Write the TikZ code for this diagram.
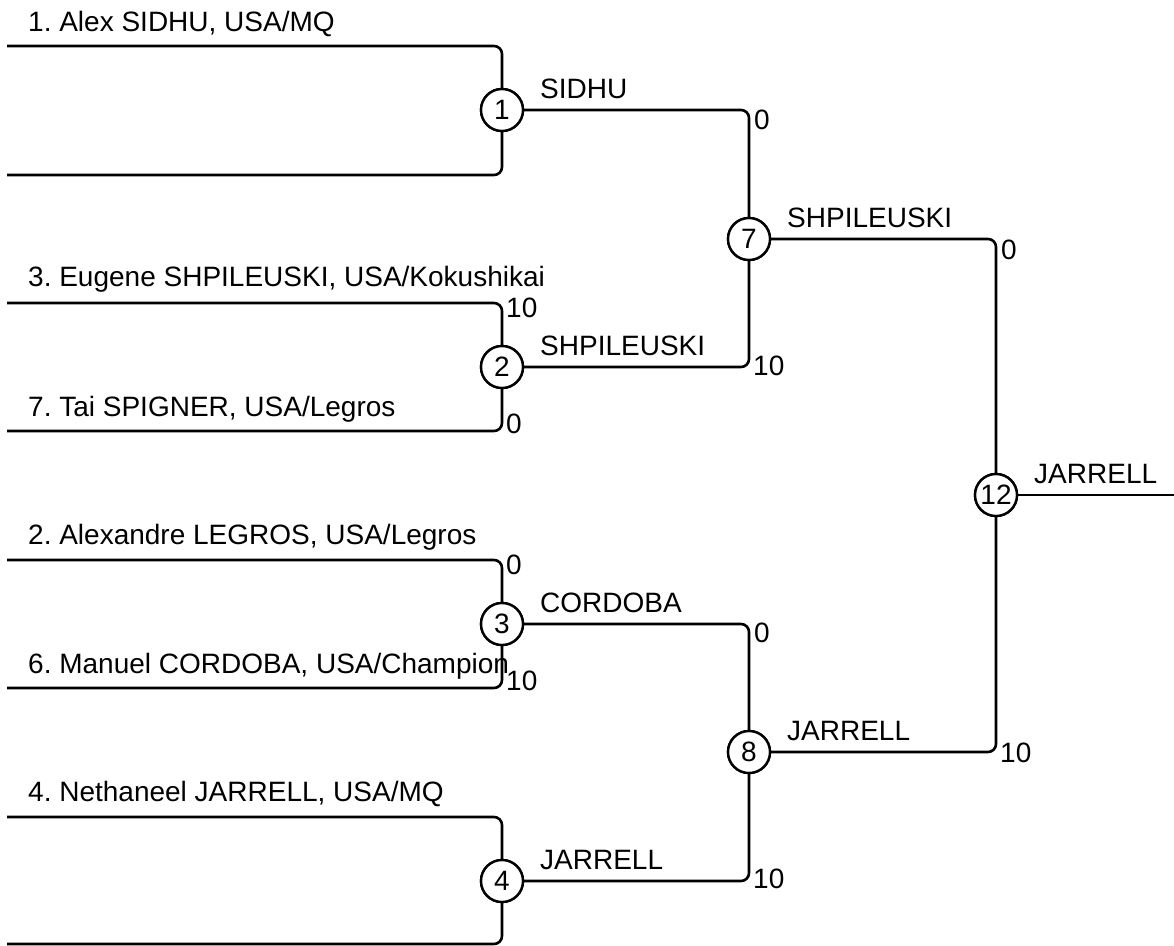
\documentclass[tikz,border=0pt]{standalone}
\usepackage{fontspec}
\setmainfont{Liberation Sans}
\frenchspacing
\begin{document}
\begin{tikzpicture}[x=1pt,y=-1pt,
  every node/.style={font=\fontsize{28}{34}\selectfont},
  link/.style={line width=2.6pt,rounded corners=8pt},
  matchnode/.style={circle,draw,line width=2.4pt,minimum size=42pt,inner sep=0pt,fill=white},
  txt/.style={inner sep=0pt,anchor=base west},
  scoretop/.style={inner sep=0pt,anchor=north west},
  scorebot/.style={inner sep=0pt,anchor=base west}]
\useasboundingbox (0,0) rectangle (1174,945);

% match nodes
\node[matchnode] (m1) at (502,110) {1};
\node[matchnode] (m2) at (502,367) {2};
\node[matchnode] (m3) at (502,624) {3};
\node[matchnode] (m4) at (502,881) {4};
\node[matchnode] (m7) at (749,239) {7};
\node[matchnode] (m8) at (749,752) {8};
\node[matchnode] (m12) at (996,495) {12};

% entry points
\coordinate (e1a) at (7,46);   \coordinate (e1b) at (7,175);
\coordinate (e2a) at (7,303);  \coordinate (e2b) at (7,431);
\coordinate (e3a) at (7,560);  \coordinate (e3b) at (7,688);
\coordinate (e4a) at (7,817);  \coordinate (e4b) at (7,944);
\coordinate (out) at (1174,495);

% round 1 brackets
\draw[link] (e1a) -| (m1);  \draw[link] (e1b) -| (m1);
\draw[link] (e2a) -| (m2);  \draw[link] (e2b) -| (m2);
\draw[link] (e3a) -| (m3);  \draw[link] (e3b) -| (m3);
\draw[link] (e4a) -| (m4);  \draw[link] (e4b) -| (m4);

% later rounds
\draw[link] (m1) -| (m7);  \draw[link] (m2) -| (m7);
\draw[link] (m3) -| (m8);  \draw[link] (m4) -| (m8);
\draw[link] (m7) -| (m12); \draw[link] (m8) -| (m12);
\draw[link] (m12) -- (out);

% redraw circles on top
\node[matchnode] at (m1) {1};
\node[matchnode] at (m2) {2};
\node[matchnode] at (m3) {3};
\node[matchnode] at (m4) {4};
\node[matchnode] at (m7) {7};
\node[matchnode] at (m8) {8};
\node[matchnode] at (m12) {12};

% player names
\node[txt] (p1) at (28,31) {1. Alex SIDHU, USA/MQ};
\node[txt] (p3) at (28,286) {3. Eugene SHPILEUSKI, USA/Kokushikai};
\node[txt] (p7) at (28,416) {7. Tai SPIGNER, USA/Legros};
\node[txt] (p2) at (28,544) {2. Alexandre LEGROS, USA/Legros};
\node[txt] (p6) at (28,673) {6. Manuel CORDOBA, USA/Champion};
\node[txt] (p4) at (28,801) {4. Nethaneel JARRELL, USA/MQ};

% winners
\node[txt] (w1) at (540,98) {SIDHU};
\node[txt] (w2) at (540,355) {SHPILEUSKI};
\node[txt] (w3) at (540,612) {CORDOBA};
\node[txt] (w4) at (540,869) {JARRELL};
\node[txt] (w7) at (787,227) {SHPILEUSKI};
\node[txt] (w8) at (787,740) {JARRELL};
\node[txt] (w12) at (1034,483) {JARRELL};

% scores
\node[scoretop] (s2a) at (506,298) {10};
\node[scorebot] (s2b) at (506,433) {0};
\node[scoretop] (s3a) at (506,555) {0};
\node[scorebot] (s3b) at (506,690) {10};
\node[scoretop] (s7a) at (754,110) {0};
\node[scorebot] (s7b) at (753,375) {10};
\node[scoretop] (s8a) at (754,623) {0};
\node[scorebot] (s8b) at (753,888) {10};
\node[scoretop] (s12a) at (1001,240) {0};
\node[scorebot] (s12b) at (1000,762) {10};
\end{tikzpicture}
\end{document}
